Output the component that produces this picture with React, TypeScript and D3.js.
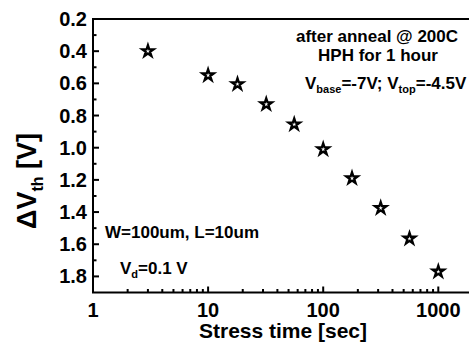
import React from "react";
import * as d3 from "d3";

const stressTime = [3, 10, 18, 32, 56, 100, 178, 316, 562, 1000];
const deltaVth = [0.4, 0.55, 0.605, 0.73, 0.855, 1.01, 1.19, 1.375, 1.565, 1.77];
const yTicks = [0.2, 0.4, 0.6, 0.8, 1.0, 1.2, 1.4, 1.6, 1.8];
const xTicks = [1, 10, 100, 1000];

const W = 469;
const H = 350;
const FONT = "'Liberation Sans', Arial, Helvetica, sans-serif";

export default function App() {
  const x = d3.scaleLog().domain([1, 2000]).range([93, 93 + 115.1 * Math.log10(2000)]);
  const y = d3.scaleLinear().domain([0.2, 1.9]).range([19, 292.5]);
  const left = x.range()[0];
  const right = x.range()[1];
  const top = y.range()[0];
  const bottom = y.range()[1];

  const yMinor = d3.range(0.3, 1.9, 0.2);
  const xMinor: number[] = [];
  for (let d = 1; d <= 1000; d *= 10) for (let k = 2; k <= 9; k++) if (d * k < 2000) xMinor.push(d * k);

  const star = d3.symbol(d3.symbolStar, 40)();

  return (
    <svg width={W} height={H} style={{ position: "absolute", left: 0, top: 0 }} fontFamily={FONT} fontWeight="bold">
      <rect x={0} y={0} width={W} height={H} fill="#fff" />
      {/* frame */}
      <path d={`M${left},${bottom}H${right}V${top}H${left}Z`} fill="none" stroke="#000" strokeWidth={2} />
      {/* y ticks */}
      {yTicks.map((t) => (
        <g key={"y" + t}>
          <line x1={left} x2={left + 6} y1={y(t)} y2={y(t)} stroke="#000" strokeWidth={2} />
          <text x={87} y={y(t)} textAnchor="end" dominantBaseline="central" fontSize={20}>
            {t.toFixed(1)}
          </text>
        </g>
      ))}
      {yMinor.map((t) => (
        <line key={"ym" + t} x1={left} x2={left + 3.5} y1={y(t)} y2={y(t)} stroke="#000" strokeWidth={2} />
      ))}
      {/* x ticks */}
      {xTicks.map((t) => (
        <g key={"x" + t}>
          <line x1={x(t)} x2={x(t)} y1={bottom} y2={bottom - 6} stroke="#000" strokeWidth={2} />
          <text x={x(t)} y={317} textAnchor="middle" fontSize={20}>
            {t}
          </text>
        </g>
      ))}
      {xMinor.map((t) => (
        <line key={"xm" + t} x1={x(t)} x2={x(t)} y1={bottom} y2={bottom - 3.5} stroke="#000" strokeWidth={2} />
      ))}
      {/* axis titles */}
      <text x={283} y={338} textAnchor="middle" fontSize={21}>
        Stress time [sec]
      </text>
      <text transform={`translate(36,181) rotate(-90)`} textAnchor="middle" fontSize={27}>
        ΔV<tspan fontSize={16} dy={7}>th</tspan>
        <tspan dy={-7}> [V]</tspan>
      </text>
      {/* annotations */}
      <text x={377} y={42} textAnchor="middle" fontSize={17}>
        after anneal @ 200C
      </text>
      <text x={378} y={61} textAnchor="middle" fontSize={17}>
        HPH for 1 hour
      </text>
      <text x={305} y={89} fontSize={17}>
        V<tspan fontSize={11} dy={4}>base</tspan>
        <tspan dy={-4}>=-7V; V</tspan>
        <tspan fontSize={11} dy={4}>top</tspan>
        <tspan dy={-4}>=-4.5V</tspan>
      </text>
      <text x={105} y={238} fontSize={17}>
        W=100um, L=10um
      </text>
      <text x={120} y={274} fontSize={17}>
        V<tspan fontSize={11} dy={4}>d</tspan>
        <tspan dy={-4}>=0.1 V</tspan>
      </text>
      {/* data */}
      {stressTime.map((t, i) => (
        <path
          key={"p" + i}
          d={star || ""}
          transform={`translate(${x(t)},${y(deltaVth[i])})`}
          fill="#fff"
          stroke="#000"
          strokeWidth={2.3}
          strokeLinejoin="miter"
        />
      ))}
    </svg>
  );
}
